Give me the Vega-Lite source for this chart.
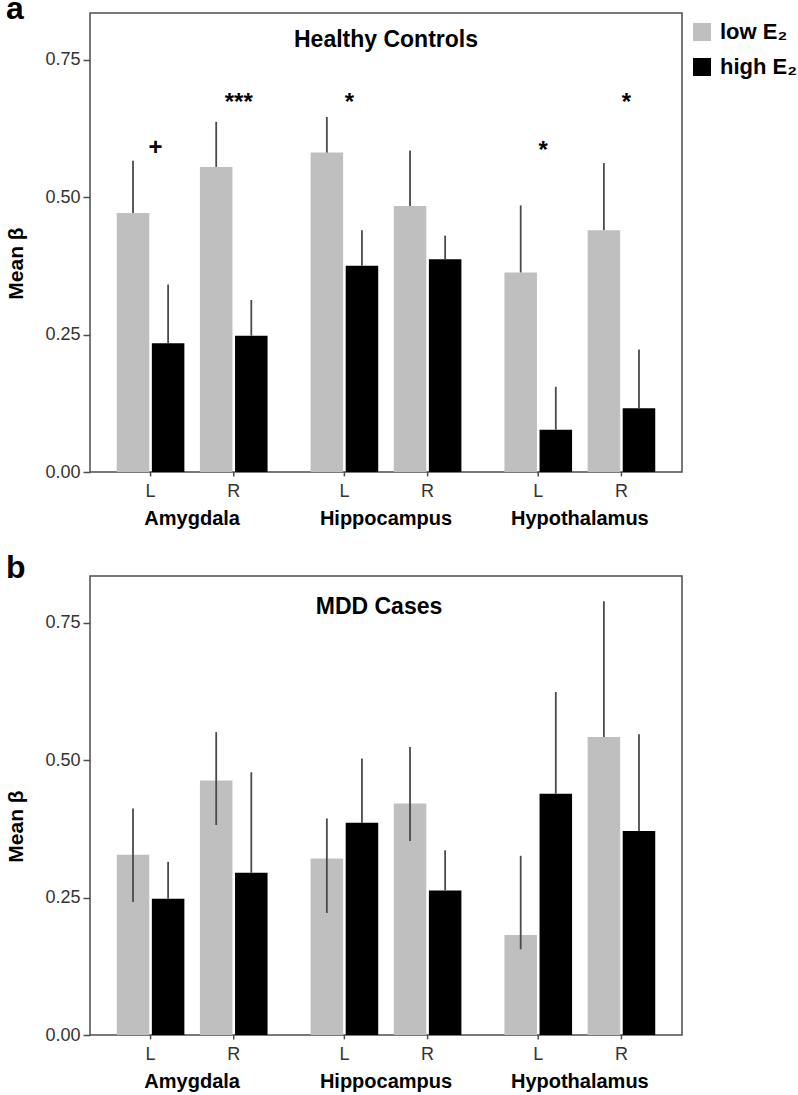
{
  "$schema": "https://vega.github.io/schema/vega-lite/v6.json",
  "background": "white",
  "padding": {"left": 5, "top": -8, "right": 0, "bottom": 0},
  "config": {
    "font": "Liberation Sans",
    "view": {"stroke": "#4d4d4d", "strokeWidth": 1.5},
    "axis": {"grid": false}
  },
  "spacing": 22,
  "datasets": {
    "bars": [
      {"panel": "a", "region": "Amygdala", "side": "L", "cond": "low E₂", "mean": 0.471, "lo": 0.471, "hi": 0.566},
      {"panel": "a", "region": "Amygdala", "side": "L", "cond": "high E₂", "mean": 0.234, "lo": 0.234, "hi": 0.341},
      {"panel": "a", "region": "Amygdala", "side": "R", "cond": "low E₂", "mean": 0.555, "lo": 0.555, "hi": 0.637},
      {"panel": "a", "region": "Amygdala", "side": "R", "cond": "high E₂", "mean": 0.248, "lo": 0.248, "hi": 0.313},
      {"panel": "a", "region": "Hippocampus", "side": "L", "cond": "low E₂", "mean": 0.581, "lo": 0.581, "hi": 0.646},
      {"panel": "a", "region": "Hippocampus", "side": "L", "cond": "high E₂", "mean": 0.375, "lo": 0.375, "hi": 0.44},
      {"panel": "a", "region": "Hippocampus", "side": "R", "cond": "low E₂", "mean": 0.484, "lo": 0.484, "hi": 0.585},
      {"panel": "a", "region": "Hippocampus", "side": "R", "cond": "high E₂", "mean": 0.387, "lo": 0.387, "hi": 0.43},
      {"panel": "a", "region": "Hypothalamus", "side": "L", "cond": "low E₂", "mean": 0.363, "lo": 0.363, "hi": 0.485},
      {"panel": "a", "region": "Hypothalamus", "side": "L", "cond": "high E₂", "mean": 0.077, "lo": 0.077, "hi": 0.155},
      {"panel": "a", "region": "Hypothalamus", "side": "R", "cond": "low E₂", "mean": 0.44, "lo": 0.44, "hi": 0.562},
      {"panel": "a", "region": "Hypothalamus", "side": "R", "cond": "high E₂", "mean": 0.116, "lo": 0.116, "hi": 0.223},
      {"panel": "b", "region": "Amygdala", "side": "L", "cond": "low E₂", "mean": 0.328, "lo": 0.242, "hi": 0.412},
      {"panel": "b", "region": "Amygdala", "side": "L", "cond": "high E₂", "mean": 0.248, "lo": 0.248, "hi": 0.315},
      {"panel": "b", "region": "Amygdala", "side": "R", "cond": "low E₂", "mean": 0.463, "lo": 0.382, "hi": 0.551},
      {"panel": "b", "region": "Amygdala", "side": "R", "cond": "high E₂", "mean": 0.295, "lo": 0.295, "hi": 0.478},
      {"panel": "b", "region": "Hippocampus", "side": "L", "cond": "low E₂", "mean": 0.321, "lo": 0.222, "hi": 0.394},
      {"panel": "b", "region": "Hippocampus", "side": "L", "cond": "high E₂", "mean": 0.386, "lo": 0.386, "hi": 0.503},
      {"panel": "b", "region": "Hippocampus", "side": "R", "cond": "low E₂", "mean": 0.421, "lo": 0.353, "hi": 0.524},
      {"panel": "b", "region": "Hippocampus", "side": "R", "cond": "high E₂", "mean": 0.263, "lo": 0.263, "hi": 0.336},
      {"panel": "b", "region": "Hypothalamus", "side": "L", "cond": "low E₂", "mean": 0.182, "lo": 0.156, "hi": 0.326},
      {"panel": "b", "region": "Hypothalamus", "side": "L", "cond": "high E₂", "mean": 0.439, "lo": 0.439, "hi": 0.624},
      {"panel": "b", "region": "Hypothalamus", "side": "R", "cond": "low E₂", "mean": 0.542, "lo": 0.542, "hi": 0.789},
      {"panel": "b", "region": "Hypothalamus", "side": "R", "cond": "high E₂", "mean": 0.371, "lo": 0.371, "hi": 0.547}
    ],
    "sig": [
      {"panel": "a", "region": "Amygdala", "side": "L", "label": "+", "y": 0.589},
      {"panel": "a", "region": "Amygdala", "side": "R", "label": "***", "y": 0.672},
      {"panel": "a", "region": "Hippocampus", "side": "L", "label": "*", "y": 0.672},
      {"panel": "a", "region": "Hypothalamus", "side": "L", "label": "*", "y": 0.584},
      {"panel": "a", "region": "Hypothalamus", "side": "R", "label": "*", "y": 0.672}
    ],
    "titles": [
      {"panel": "a", "region": "Hippocampus", "label": "Healthy Controls", "y": 0.786},
      {"panel": "b", "region": "Hippocampus", "label": "MDD Cases", "y": 0.778}
    ]
  },
  "vconcat": [
    {
      "width": 592,
      "height": 459,
      "title": {"text": "a", "anchor": "start", "frame": "bounds", "fontSize": 32, "fontWeight": "bold", "color": "#000", "baseline": "alphabetic", "offset": -38},
      "layer": [
        {
          "data": {"name": "bars"},
          "transform": [{"filter": "datum.panel == 'a' && datum.cond == 'low E₂'"}],
          "mark": {"type": "bar"},
          "encoding": {
            "x": {"field": "region", "type": "nominal", "scale": {"paddingInner": 0.222, "paddingOuter": 0.138}, "axis": {"title": null, "ticks": false, "tickSize": 0, "domain": false, "labelFontSize": 20, "labelFontWeight": "bold", "labelColor": "#000", "labelPadding": 36, "labelAngle": 0}},
            "xOffset": {"field": "side", "type": "nominal", "scale": {"type": "band", "paddingInner": 0.609, "paddingOuter": 0.211, "align": 0}},
            "y": {"field": "mean", "type": "quantitative", "scale": {"domain": [0, 0.835], "nice": false}, "axis": {"values": [0, 0.25, 0.5, 0.75], "format": ".2f", "title": "Mean β", "titleFontSize": 21, "titleFontWeight": "bold", "titleColor": "#000", "titlePadding": 18, "titleY": 250, "labelFontSize": 18, "labelColor": "#333", "labelPadding": 3, "tickSize": 7, "tickColor": "#4d4d4d", "tickWidth": 1.5, "domain": false, "grid": false}},
            "color": {"field": "cond", "type": "nominal", "scale": {"domain": ["low E₂", "high E₂"], "range": ["#bfbfbf", "#000000"]}, "legend": {"title": null, "orient": "right", "offset": 1, "padding": 8, "symbolType": "square", "symbolSize": 324, "symbolStrokeWidth": 0, "labelFontSize": 22, "labelFontWeight": "bold", "labelColor": "#000", "rowPadding": 13, "labelOffset": 7}}
          }
        },
        {
          "data": {"name": "bars"},
          "transform": [{"filter": "datum.panel == 'a' && datum.cond == 'low E₂'"}],
          "mark": {"type": "rule", "color": "#4a4a4a", "strokeWidth": 1.8},
          "encoding": {
            "x": {"field": "region", "type": "nominal"},
            "xOffset": {"field": "side", "type": "nominal", "scale": {"type": "band", "paddingInner": 0.609, "paddingOuter": 0.211, "align": 0}},
            "y": {"field": "lo", "type": "quantitative"},
            "y2": {"field": "hi"}
          }
        },
        {
          "data": {"name": "bars"},
          "transform": [{"filter": "datum.panel == 'a' && datum.cond == 'high E₂'"}],
          "mark": {"type": "bar"},
          "encoding": {
            "x": {"field": "region", "type": "nominal"},
            "xOffset": {"field": "side", "type": "nominal", "scale": {"type": "band", "paddingInner": 0.609, "paddingOuter": 0.211, "align": 1}},
            "y": {"field": "mean", "type": "quantitative"},
            "color": {"field": "cond", "type": "nominal"}
          }
        },
        {
          "data": {"name": "bars"},
          "transform": [{"filter": "datum.panel == 'a' && datum.cond == 'high E₂'"}],
          "mark": {"type": "rule", "color": "#4a4a4a", "strokeWidth": 1.8},
          "encoding": {
            "x": {"field": "region", "type": "nominal"},
            "xOffset": {"field": "side", "type": "nominal", "scale": {"type": "band", "paddingInner": 0.609, "paddingOuter": 0.211, "align": 1}},
            "y": {"field": "lo", "type": "quantitative"},
            "y2": {"field": "hi"}
          }
        },
        {
          "data": {"name": "bars"},
          "transform": [{"filter": "datum.panel == 'a' && datum.cond == 'low E₂'"}],
          "mark": {"type": "rule", "color": "#4d4d4d", "strokeWidth": 1.5},
          "encoding": {
            "x": {"field": "region", "type": "nominal"},
            "xOffset": {"field": "side", "type": "nominal", "scale": {"type": "band", "paddingInner": 0.1875, "paddingOuter": 0}},
            "y": {"datum": 0, "type": "quantitative"},
            "y2": {"datum": -0.008}
          }
        },
        {
          "data": {"name": "bars"},
          "transform": [{"filter": "datum.panel == 'a' && datum.cond == 'low E₂'"}],
          "mark": {"type": "text", "fontSize": 18, "color": "#333", "baseline": "alphabetic", "dy": 25},
          "encoding": {
            "x": {"field": "region", "type": "nominal"},
            "xOffset": {"field": "side", "type": "nominal", "scale": {"type": "band", "paddingInner": 0.1875, "paddingOuter": 0}},
            "y": {"datum": 0, "type": "quantitative"},
            "text": {"field": "side"}
          }
        },
        {
          "data": {"name": "sig"},
          "transform": [{"filter": "datum.panel == 'a'"}],
          "mark": {"type": "text", "fontSize": 24, "fontWeight": "bold", "color": "#000", "baseline": "middle", "dx": 5},
          "encoding": {
            "x": {"field": "region", "type": "nominal"},
            "xOffset": {"field": "side", "type": "nominal", "scale": {"type": "band", "paddingInner": 0.1875, "paddingOuter": 0}},
            "y": {"field": "y", "type": "quantitative"},
            "text": {"field": "label"}
          }
        },
        {
          "data": {"name": "titles"},
          "transform": [{"filter": "datum.panel == 'a'"}],
          "mark": {"type": "text", "fontSize": 23, "fontWeight": "bold", "color": "#000", "baseline": "middle"},
          "encoding": {
            "x": {"field": "region", "type": "nominal"},
            "y": {"field": "y", "type": "quantitative"},
            "text": {"field": "label"}
          }
        }
      ],
      "resolve": {"scale": {"xOffset": "independent"}}
    },
    {
      "width": 592,
      "height": 459,
      "title": {"text": "b", "anchor": "start", "frame": "bounds", "fontSize": 32, "fontWeight": "bold", "color": "#000", "baseline": "alphabetic", "offset": -34},
      "layer": [
        {
          "data": {"name": "bars"},
          "transform": [{"filter": "datum.panel == 'b' && datum.cond == 'low E₂'"}],
          "mark": {"type": "bar"},
          "encoding": {
            "x": {"field": "region", "type": "nominal", "scale": {"paddingInner": 0.222, "paddingOuter": 0.138}, "axis": {"title": null, "ticks": false, "tickSize": 0, "domain": false, "labelFontSize": 20, "labelFontWeight": "bold", "labelColor": "#000", "labelPadding": 36, "labelAngle": 0}},
            "xOffset": {"field": "side", "type": "nominal", "scale": {"type": "band", "paddingInner": 0.609, "paddingOuter": 0.211, "align": 0}},
            "y": {"field": "mean", "type": "quantitative", "scale": {"domain": [0, 0.835], "nice": false}, "axis": {"values": [0, 0.25, 0.5, 0.75], "format": ".2f", "title": "Mean β", "titleFontSize": 21, "titleFontWeight": "bold", "titleColor": "#000", "titlePadding": 18, "titleY": 250, "labelFontSize": 18, "labelColor": "#333", "labelPadding": 3, "tickSize": 7, "tickColor": "#4d4d4d", "tickWidth": 1.5, "domain": false, "grid": false}},
            "color": {"field": "cond", "type": "nominal", "scale": {"domain": ["low E₂", "high E₂"], "range": ["#bfbfbf", "#000000"]}, "legend": null}
          }
        },
        {
          "data": {"name": "bars"},
          "transform": [{"filter": "datum.panel == 'b' && datum.cond == 'low E₂'"}],
          "mark": {"type": "rule", "color": "#4a4a4a", "strokeWidth": 1.8},
          "encoding": {
            "x": {"field": "region", "type": "nominal"},
            "xOffset": {"field": "side", "type": "nominal", "scale": {"type": "band", "paddingInner": 0.609, "paddingOuter": 0.211, "align": 0}},
            "y": {"field": "lo", "type": "quantitative"},
            "y2": {"field": "hi"}
          }
        },
        {
          "data": {"name": "bars"},
          "transform": [{"filter": "datum.panel == 'b' && datum.cond == 'high E₂'"}],
          "mark": {"type": "bar"},
          "encoding": {
            "x": {"field": "region", "type": "nominal"},
            "xOffset": {"field": "side", "type": "nominal", "scale": {"type": "band", "paddingInner": 0.609, "paddingOuter": 0.211, "align": 1}},
            "y": {"field": "mean", "type": "quantitative"},
            "color": {"field": "cond", "type": "nominal", "legend": null}
          }
        },
        {
          "data": {"name": "bars"},
          "transform": [{"filter": "datum.panel == 'b' && datum.cond == 'high E₂'"}],
          "mark": {"type": "rule", "color": "#4a4a4a", "strokeWidth": 1.8},
          "encoding": {
            "x": {"field": "region", "type": "nominal"},
            "xOffset": {"field": "side", "type": "nominal", "scale": {"type": "band", "paddingInner": 0.609, "paddingOuter": 0.211, "align": 1}},
            "y": {"field": "lo", "type": "quantitative"},
            "y2": {"field": "hi"}
          }
        },
        {
          "data": {"name": "bars"},
          "transform": [{"filter": "datum.panel == 'b' && datum.cond == 'low E₂'"}],
          "mark": {"type": "rule", "color": "#4d4d4d", "strokeWidth": 1.5},
          "encoding": {
            "x": {"field": "region", "type": "nominal"},
            "xOffset": {"field": "side", "type": "nominal", "scale": {"type": "band", "paddingInner": 0.1875, "paddingOuter": 0}},
            "y": {"datum": 0, "type": "quantitative"},
            "y2": {"datum": -0.008}
          }
        },
        {
          "data": {"name": "bars"},
          "transform": [{"filter": "datum.panel == 'b' && datum.cond == 'low E₂'"}],
          "mark": {"type": "text", "fontSize": 18, "color": "#333", "baseline": "alphabetic", "dy": 25},
          "encoding": {
            "x": {"field": "region", "type": "nominal"},
            "xOffset": {"field": "side", "type": "nominal", "scale": {"type": "band", "paddingInner": 0.1875, "paddingOuter": 0}},
            "y": {"datum": 0, "type": "quantitative"},
            "text": {"field": "side"}
          }
        },
        {
          "data": {"name": "titles"},
          "transform": [{"filter": "datum.panel == 'b'"}],
          "mark": {"type": "text", "fontSize": 23, "fontWeight": "bold", "color": "#000", "baseline": "middle", "dx": -7},
          "encoding": {
            "x": {"field": "region", "type": "nominal"},
            "y": {"field": "y", "type": "quantitative"},
            "text": {"field": "label"}
          }
        }
      ],
      "resolve": {"scale": {"xOffset": "independent"}}
    }
  ],
  "resolve": {"scale": {"color": "independent", "xOffset": "independent"}, "legend": {"color": "independent"}}
}
